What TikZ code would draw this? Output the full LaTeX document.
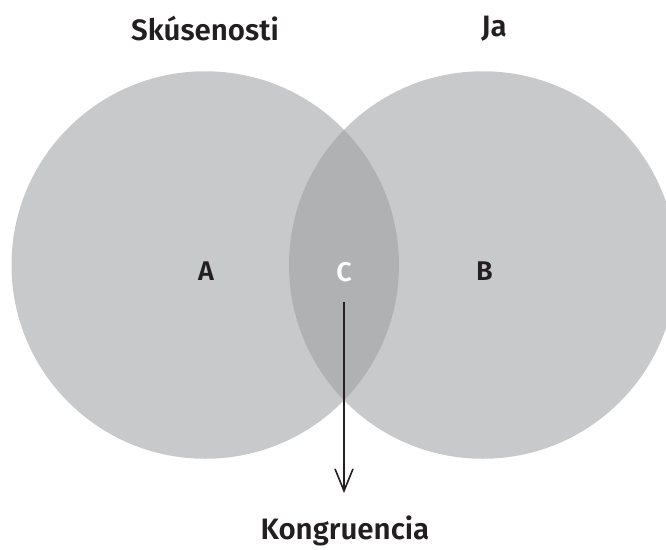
\documentclass[tikz,border=0pt]{standalone}
\usepackage{fontspec}
\setmainfont{Fira Sans}[UprightFont=* SemiBold, BoldFont=* Bold]
\usetikzlibrary{arrows.meta}

\definecolor{setgray}{HTML}{C8C9CB}
\definecolor{lensgray}{HTML}{B0B1B3}
\definecolor{inkdark}{HTML}{231F20}

\tikzset{
  setdisk/.style={fill=setgray, draw=none},
  heading/.style={text=inkdark, font=\fontsize{29.5}{34}\selectfont, inner sep=0pt},
  region/.style={text=inkdark, font=\fontsize{27}{32}\selectfont, inner sep=0pt},
  pointer/.style={draw=inkdark, line width=2pt,
    -{Straight Barb[length=22pt, width=18pt, line width=1.6pt]}}
}

\begin{document}
\begin{tikzpicture}[x=1pt, y=-1pt]
  \useasboundingbox (0,0) rectangle (666,549);
  \clip (0,0) rectangle (666,549);

  % the two sets
  \fill[setdisk] (205.25,265) circle (193.75);
  \fill[setdisk] (482.75,265) circle (193.75);

  % their overlap
  \begin{scope}
    \clip (205.25,265) circle (193.75);
    \fill[lensgray] (482.75,265) circle (193.75);
  \end{scope}

  % titles
  \node[heading] (exp) at (205,29) {Skúsenosti};
  \node[heading] (self) at (494,29) {Ja};

  % region letters
  \node[region] (a) at (206,271.5) {A};
  \node[region] (b) at (484.5,271.5) {B};
  \node[region, text=white] (c) at (344,272) {C};

  % outcome label and pointer
  \node[heading, anchor=base] (kong) at (345,539) {Kongruencia};
  \coordinate (ptrstart) at (344,302);
  \coordinate (ptrend) at (344,493);
  \draw[pointer] (ptrstart) -- (ptrend);
\end{tikzpicture}
\end{document}
